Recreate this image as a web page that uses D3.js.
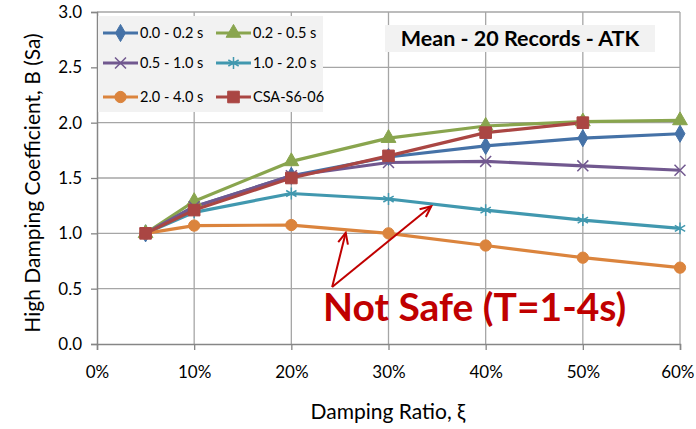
<!DOCTYPE html>
<html><head><meta charset="utf-8">
<script src="https://cdn.jsdelivr.net/npm/d3@7"></script>
<style>
html,body{margin:0;padding:0;background:#fff;}
text{font-family:Lato,"Open Sans",sans-serif;}
</style></head>
<body><svg id="c" width="696" height="429"></svg>
<script>
const ratios = [0.05, 0.10, 0.20, 0.30, 0.40, 0.50, 0.60];
const s00_02 = [1.00, 1.24, 1.52, 1.69, 1.79, 1.86, 1.90];
const s02_05 = [1.00, 1.29, 1.65, 1.86, 1.97, 2.01, 2.02];
const s05_10 = [1.00, 1.24, 1.52, 1.64, 1.65, 1.61, 1.57];
const s10_20 = [1.00, 1.19, 1.36, 1.31, 1.21, 1.12, 1.045];
const s20_40 = [1.00, 1.07, 1.075, 1.00, 0.89, 0.78, 0.69];
const sCSA   = [1.00, 1.21, 1.50, 1.70, 1.91, 2.00];
const seriesNames = ["0.0 - 0.2 s","0.2 - 0.5 s","0.5 - 1.0 s","1.0 - 2.0 s","2.0 - 4.0 s","CSA-S6-06"];
const xTicks = [0, 0.1, 0.2, 0.3, 0.4, 0.5, 0.6];
const yTicks = [0, 0.5, 1.0, 1.5, 2.0, 2.5, 3.0];
const titleText = "Mean - 20 Records - ATK";
const noteText = "Not Safe (T=1-4s)";
// annotation arrows in data units: [from x, from y, to x, to y]
const arrows = [[0.242, 0.515, 0.256, 1.005], [0.242, 0.515, 0.344, 1.245]];

const series = [
  {name: seriesNames[0], values: s00_02, color: "#4572a7", sym: d3.symbolDiamond, size: 85, fill: true},
  {name: seriesNames[1], values: s02_05, color: "#89a54e", sym: d3.symbolTriangle, size: 95, fill: true},
  {name: seriesNames[2], values: s05_10, color: "#71588f", sym: d3.symbolX, size: 80, fill: false},
  {name: seriesNames[3], values: s10_20, color: "#4198af", sym: d3.symbolAsterisk, size: 100, fill: false},
  {name: seriesNames[4], values: s20_40, color: "#db843d", sym: d3.symbolCircle, size: 100, fill: true},
  {name: seriesNames[5], values: sCSA,   color: "#aa4643", sym: d3.symbolSquare, size: 135, fill: true}
];

const svg = d3.select("#c");
const L = 97, R = 680, T = 12, B = 344;
const x = d3.scaleLinear().domain([0, 0.6]).range([L, R]);
const y = d3.scaleLinear().domain([0, 3]).range([B, T]);

// grid
const grid = svg.append("g");
grid.selectAll("line.h").data(yTicks.filter(d => d > 0)).join("line")
  .attr("x1", L).attr("x2", R).attr("y1", d => y(d)).attr("y2", d => y(d))
  .attr("stroke", "#a6a6a6").attr("stroke-width", 1.3);
grid.selectAll("line.v").data(xTicks.filter(d => d > 0)).join("line")
  .attr("y1", T).attr("y2", B).attr("x1", d => x(d)).attr("x2", d => x(d))
  .attr("stroke", "#a6a6a6").attr("stroke-width", 1.3);

// axes
const yAxis = svg.append("g").attr("transform", `translate(${L},0)`)
  .call(d3.axisLeft(y).tickValues(yTicks).tickFormat(d3.format(".1f")).tickSize(6).tickPadding(9));
const xAxis = svg.append("g").attr("transform", `translate(0,${B})`)
  .call(d3.axisBottom(x).tickValues(xTicks).tickFormat(d3.format(".0%")).tickSize(6).tickPadding(16));
[yAxis, xAxis].forEach(a => {
  a.select(".domain").attr("stroke", "#868686").attr("stroke-width", 1.5);
  a.selectAll(".tick line").attr("stroke", "#868686").attr("stroke-width", 1.3);
  a.selectAll(".tick text").attr("fill", "#000").style("font-size", "17px").style("font-family", "Lato");
});
// keep the last x label inside the frame
xAxis.selectAll(".tick text").filter(d => d === 0.6).attr("text-anchor", "end").attr("x", 14);

// axis titles
svg.append("text").attr("x", 388).attr("y", 419).attr("text-anchor", "middle")
  .style("font-size", "21px").text("Damping Ratio, ξ");
svg.append("text").attr("transform", `translate(40,183) rotate(-90)`)
  .attr("text-anchor", "middle").style("font-size", "21px").text("High Damping Coefficient, B (Sa)");

// lines
const line = d3.line().x((d, i) => x(ratios[i])).y(d => y(d));
series.forEach(s => {
  svg.append("path").datum(s.values).attr("d", line)
    .attr("fill", "none").attr("stroke", s.color).attr("stroke-width", 3.2)
    .attr("stroke-linejoin", "round");
});
series.forEach(s => {
  svg.append("g").selectAll("path").data(s.values).join("path")
    .attr("transform", (d, i) => `translate(${x(ratios[i])},${y(d)})`)
    .attr("d", d3.symbol().type(s.sym).size(s.size))
    .attr("fill", s.fill ? s.color : "none")
    .attr("stroke", s.color).attr("stroke-width", s.fill ? 1 : 1.5);
});

// legend
const lg = svg.append("g");
lg.append("rect").attr("x", 98).attr("y", 16).attr("width", 225).attr("height", 96).attr("fill", "#f2f2f2");
const legPos = [[103, 33], [216, 33], [103, 63], [216, 63], [103, 97], [216, 97]];
series.forEach((s, i) => {
  const [lx, ly] = legPos[i];
  const g = lg.append("g").attr("transform", `translate(${lx},${ly})`);
  g.append("line").attr("x1", 0).attr("x2", 35).attr("stroke", s.color).attr("stroke-width", 3.2);
  g.append("path").attr("transform", "translate(17.5,0)")
    .attr("d", d3.symbol().type(s.sym).size(s.size))
    .attr("fill", s.fill ? s.color : "none").attr("stroke", s.color).attr("stroke-width", s.fill ? 1 : 1.5);
  g.append("text").attr("x", 37).attr("y", 0).attr("dy", "0.35em").style("font-size", "14.5px").text(s.name);
});

// title box
svg.append("rect").attr("x", 385).attr("y", 25).attr("width", 270).attr("height", 27).attr("fill", "#f2f2f2");
svg.append("text").attr("x", 520).attr("y", 46).attr("text-anchor", "middle")
  .style("font-size", "21.5px").style("font-weight", "bold").text(titleText);

// annotation
const defs = svg.append("defs");
defs.append("marker").attr("id", "ah").attr("viewBox", "-12 -7 14 14").attr("refX", 0).attr("refY", 0)
  .attr("markerWidth", 14).attr("markerHeight", 14).attr("markerUnits", "userSpaceOnUse").attr("orient", "auto")
  .append("path").attr("d", "M-11,-5 L0,0 L-11,5").attr("fill", "none").attr("stroke", "#c00000").attr("stroke-width", 2);
arrows.forEach(a => {
  svg.append("line").attr("x1", x(a[0])).attr("y1", y(a[1])).attr("x2", x(a[2])).attr("y2", y(a[3]))
    .attr("stroke", "#c00000").attr("stroke-width", 2).attr("marker-end", "url(#ah)");
});
svg.append("text").attr("x", 323).attr("y", 321).style("font-size", "39px").style("font-weight", "bold")
  .attr("fill", "#c00000").text(noteText);
</script></body></html>
